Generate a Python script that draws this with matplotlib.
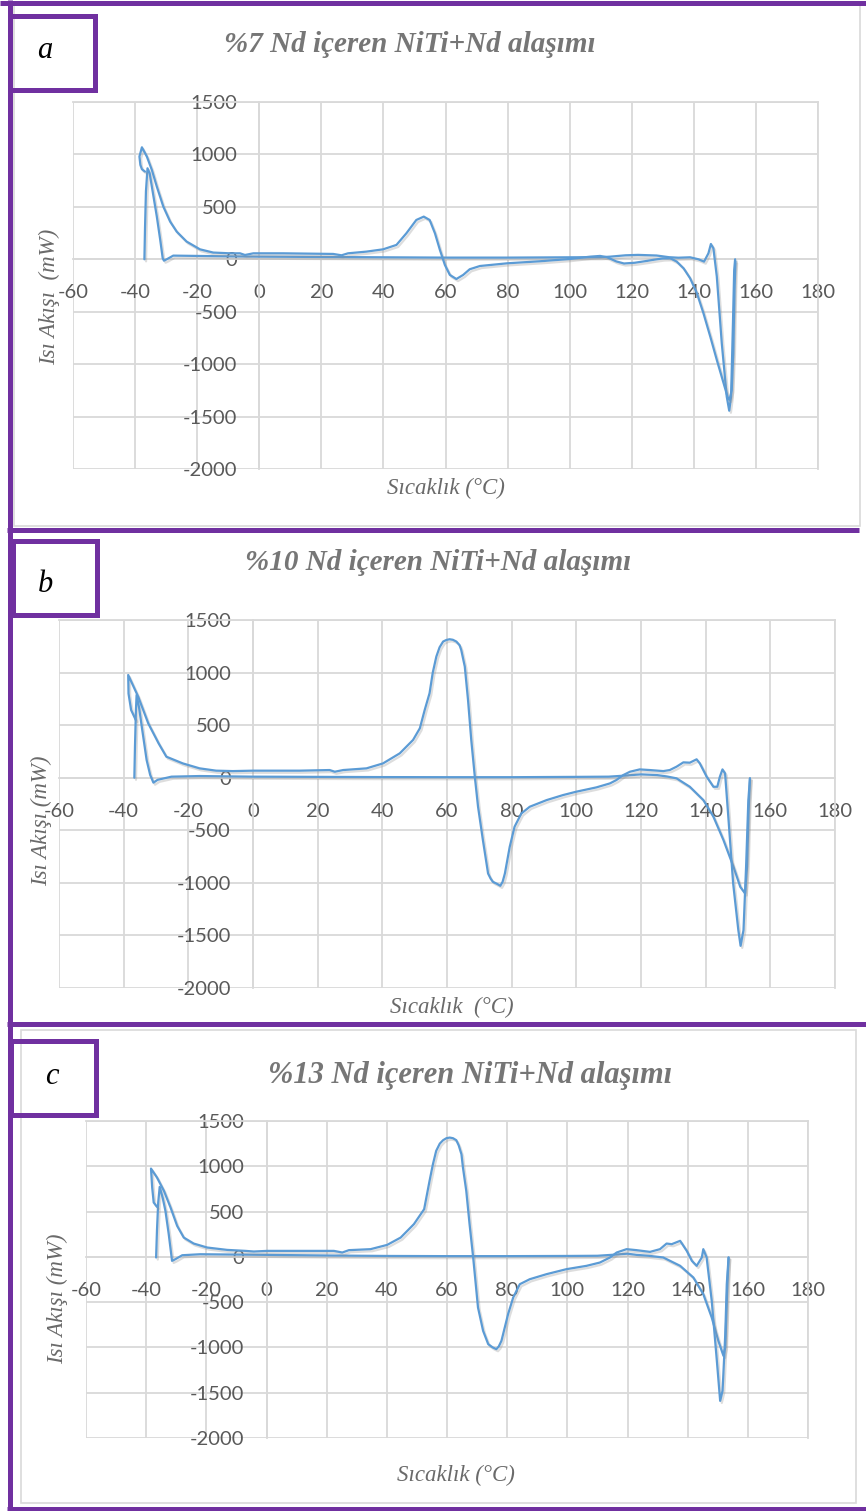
import matplotlib
matplotlib.use('Agg')
import matplotlib.pyplot as plt
from matplotlib.lines import Line2D
from matplotlib.patches import Rectangle
import matplotlib.patheffects as pe

# ---------------- data ----------------
x_ticks = list(range(-60, 181, 20))
y_ticks = list(range(-2000, 1501, 500))

titles = ["%7 Nd içeren NiTi+Nd alaşımı",
          "%10 Nd içeren NiTi+Nd alaşımı",
          "%13 Nd içeren NiTi+Nd alaşımı"]
panel_letters = ["a", "b", "c"]
x_labels = ["Sıcaklık (°C)", "Sıcaklık  (°C)", "Sıcaklık (°C)"]
y_labels = ["Isı Akışı  (mW)", "Isı Akışı (mW)", "Isı Akışı (mW)"]

# panel a
a1_T = [-37.0, -36.8, -36.5, -36.0, -35.3, -34.6, -33.0, -31.9, -31.1, -30.7, -29.8, -27.7,
        -20, -10, 0, 20, 40, 60, 80, 100, 110, 113, 118, 122, 128, 132, 135, 138.8,
        141.5, 143.3, 144.7, 145.5, 146.3, 147.4, 149.0, 150.6, 151.4, 152.0, 152.6, 153.0, 153.3]
a1_Q = [0, 300, 650, 868, 820, 693, 407, 184, 10, -13, 0, 35,
        32, 28, 25, 22, 19, 16, 16, 19, 20, 25, 38, 42, 36, 20, 15, 19,
        0, -22, 57, 146, 105, -165, -801, -1310, -1444, -1310, -610, -102, 0]
a2_T = [153.4, 153.1, 152.7, 152.2, 151.5, 151.0, 149.6, 147.4, 145.3, 143.1, 141.0, 138.8,
        136.7, 134.5, 132.4, 130.0, 127.0, 125.0, 121.0, 117.5, 115.0, 112.0, 109.8, 106.6,
        100.1, 90.4, 80.0, 71.1, 67.8, 65.7, 63.5, 61.4, 59.8, 58.2, 56.6, 54.9, 53.0, 50.6,
        47.4, 44.2, 39.9, 34.5, 28.6, 26.5, 23.8, 7.7, -1.9, -4.6, -6.2, -9.4, -14.8, -19.1,
        -23.4, -26.6, -28.7, -30.9, -33.0, -34.6, -36.2, -37.8, -38.6, -38.3, -37.8, -36.8]
a2_Q = [-20, -300, -900, -1250, -1340, -1326, -1183, -960, -738, -515, -324, -181,
        -86, -22, 10, 8, -5, -15, -33, -40, -20, 20, 32, 25,
        3, -19, -38, -64, -95, -149, -188, -149, -54, 89, 248, 375, 407, 375,
        248, 137, 95, 73, 57, 38, 51, 57, 57, 41, 57, 57, 64, 95,
        169, 264, 359, 502, 693, 852, 979, 1068, 980, 900, 859, 836]

# panel b
b1_T = [-36.7, -36.5, -36.2, -36.0, -35.2, -34.4, -32.9, -31.8, -30.8, -29.5, -25.2, -16.5,
        0, 20, 40, 60, 80, 100, 110, 115, 120, 125, 128, 131, 135.1, 139.3, 142.4, 145.5,
        148.6, 150.7, 152.2, 152.8, 153.3, 153.7]
b1_Q = [0, 300, 650, 787, 660, 485, 168, 26, -47, -20, 10, 16,
        10, 8, 6, 5, 5, 8, 10, 20, 32, 25, 12, -6, -86, -213, -371, -593,
        -847, -1038, -1101, -847, -300, -6]
b2_T = [153.7, 153.2, 152.5, 151.7, 150.8, 150.1, 148.5, 147.0, 146.0, 145.2, 144.4, 143.6,
        142.4, 140.3, 138.2, 137.2, 135.1, 133.1, 131.0, 128.9, 126.9, 122.7, 119.6, 116.6,
        114.5, 112.4, 110.4, 106.2, 100.0, 95.9, 90.8, 85.6, 83.0, 80.9, 79.4, 77.9, 77.2, 76.5,
        75.5, 74.2, 73.5, 72.7, 71.1, 69.6, 68.6, 67.5, 66.5, 65.5, 64.4, 63.9, 62.9, 61.8,
        60.8, 59.8, 58.8, 57.7, 56.7, 55.6, 54.6,
        53.1, 51.6, 49.5, 45.4, 40.2, 35.1, 27.9, 25.3, 23.7, 14.4, 0.0, -6.2, -11.4, -16.5,
        -21.7, -26.8, -29.2, -32.4, -35.5, -38.6, -38.5, -37.7, -36.5, -36.3]
b2_Q = [-6, -213, -847, -1450, -1599, -1450, -1006, -371, 41, 79, 10, -86,
        -86, 10, 136, 175, 143, 146, 105, 73, 63, 73, 79, 57,
        25, -22, -54, -92, -133, -165, -213, -276, -340, -466, -657, -911, -990, -1028,
        -1010, -990, -960, -911, -593, -276, 10, 359, 739, 1057, 1215, 1260, 1295, 1312,
        1317, 1310, 1295, 1240, 1152, 1000, 803,
        644, 470, 359, 232, 136, 89, 73, 57, 73, 67, 67, 63, 67, 89,
        136, 200, 327, 517, 770, 977, 800, 644, 565, 550]

# panel c
c1_T = [-36.7, -36.4, -36.0, -35.5, -34.5, -33.6, -32.5, -31.4, -30.3, -28.0, -22.0,
        0, 20, 40, 60, 80, 100, 110, 116, 120, 123, 127, 131.9, 137.5, 141.9, 145.2,
        148.0, 150.2, 151.9, 152.5, 153.1, 153.6]
c1_Q = [-7, 300, 600, 773, 650, 508, 250, -44, -26, 18, 29,
        22, 15, 10, 8, 8, 10, 12, 25, 35, 22, 12, -7, -99, -228, -412,
        -670, -927, -1093, -1000, -400, -7]
c2_T = [153.6, 153.0, 152.5, 151.6, 150.8, 149.7, 148.0, 146.3, 145.2, 144.7, 143.0, 141.4,
        139.7, 137.5, 134.7, 133.0, 130.8, 127.5, 123.0, 119.7, 116.4, 114.2, 110.8, 106.4,
        99.7, 93.1, 87.5, 84.2, 82.0, 80.3, 78.1, 77.2, 76.4, 75.2, 73.7, 72.0, 70.3, 68.7,
        67.5, 66.4, 65.3, 64.8, 63.9, 63.1, 62.0, 60.9, 59.8, 58.7, 57.6, 56.4, 55.3, 54.2,
        52.4, 49.0, 44.6, 40.1, 34.6, 27.4, 25.2,
        22.4, 0.2, -4.2, -7.0, -13.1, -19.7, -24.2, -27.5, -29.7, -31.9, -34.1, -36.4, -38.4,
        -38.0, -37.5, -36.4]
c2_Q = [-7, -302, -854, -1479, -1590, -1148, -486, -7, 85, -7, -99, -44,
        66, 177, 140, 147, 85, 55, 74, 85, 48, -7, -63, -99,
        -136, -191, -247, -302, -449, -633, -927, -990, -1019, -1000, -964, -817, -559, -7,
        361, 729, 986, 1133, 1230, 1288, 1310, 1317, 1310, 1288, 1250, 1170, 1020, 839,
        526, 361, 213, 132, 85, 74, 48,
        66, 66, 59, 66, 77, 103, 147, 213, 342, 545, 729, 876, 975,
        765, 600, 552]

series = [[(a1_T, a1_Q), (a2_T, a2_Q)],
          [(b1_T, b1_Q), (b2_T, b2_Q)],
          [(c1_T, c1_Q), (c2_T, c2_Q)]]

# ---------------- layout / style ----------------
W, H = 866, 1511
plt.rcParams['font.family'] = ['Lato', 'DejaVu Sans']
plt.rcParams['axes.unicode_minus'] = False
fig = plt.figure(figsize=(W / 100, H / 100), dpi=100)
fig.patch.set_facecolor('white')

PURPLE = '#7030A0'
BLUE = '#5B9BD5'
GRID = '#D9D9D9'
TICKC = '#595959'
TITLEC = '#767676'
LABELC = '#6A6A6A'
SERIF = ['Liberation Serif', 'DejaVu Serif']


def fx(x):
    return x / W


def fy(y):
    return 1 - y / H


# plot areas in pixels: left, right, top, bottom
areas = [(73, 818, 102, 469), (59, 835, 620, 988), (86, 808, 1121, 1438)]
title_pos = [(410, 45, 21), (438, 563, 21), (470, 1075, 22)]
letter_pos = [(45, 50), (45, 585), (52, 1077)]
xlab_pos = [(446, 488), (452, 1007), (456, 1475)]
ylab_pos = [(50, 297), (42, 821), (57, 1299)]

# chart-area light borders
fig.add_artist(Rectangle((fx(14), fy(526)), fx(860) - fx(14), fy(4) - fy(526),
                         transform=fig.transFigure, fill=False, edgecolor=GRID, lw=1.2, zorder=0))
fig.add_artist(Rectangle((fx(21), fy(1503)), fx(856) - fx(21), fy(1030) - fy(1503),
                         transform=fig.transFigure, fill=False, edgecolor=GRID, lw=1.2, zorder=0))

for i, (l, r, t, b) in enumerate(areas):
    ax = fig.add_axes([fx(l), fy(b), fx(r) - fx(l), fy(t) - fy(b)])
    ax.set_facecolor('none')
    ax.set_xlim(-60, 180)
    ax.set_ylim(-2000, 1500)
    ax.set_xticks(x_ticks)
    ax.set_yticks(y_ticks)
    ax.set_axisbelow(True)
    ax.grid(True, color=GRID, lw=1.3)
    for gl in ax.xaxis.get_gridlines() + ax.yaxis.get_gridlines():
        gl.set_clip_on(False)
    ax.spines['left'].set_position(('data', 0))
    ax.spines['bottom'].set_position(('data', 0))
    for s in ax.spines.values():
        s.set_color(GRID)
        s.set_linewidth(1.3)
    ax.tick_params(axis='both', length=0, labelsize=14.5, labelcolor=TICKC)
    ax.tick_params(axis='y', pad=16)
    ax.tick_params(axis='x', pad=18)
    for T, Q in series[i]:
        ax.plot(T, Q, color=BLUE, lw=1.6, solid_joinstyle='round', solid_capstyle='round',
                path_effects=[pe.SimpleLineShadow(offset=(1.2, -1.5), shadow_color='#909090', alpha=0.3),
                              pe.Normal()], zorder=3)

    tx, ty, ts = title_pos[i]
    fig.text(fx(tx), fy(ty), titles[i], ha='center', va='center', family=SERIF,
             style='italic', weight='bold', size=ts, color=TITLEC)
    lx, ly = letter_pos[i]
    fig.text(fx(lx), fy(ly), panel_letters[i], ha='center', va='center', family=SERIF,
             style='italic', size=22, color='black')
    xx, xy = xlab_pos[i]
    fig.text(fx(xx), fy(xy), x_labels[i], ha='center', va='center', family=SERIF,
             style='italic', size=16.5, color=LABELC)
    yx, yy = ylab_pos[i]
    fig.text(fx(yx), fy(yy), y_labels[i], ha='center', va='center', family=SERIF,
             style='italic', size=16.5, color=LABELC, rotation=90)

# purple frame lines
LW = 5 * 0.72


def pline(x0, y0, x1, y1):
    fig.add_artist(Line2D([fx(x0), fx(x1)], [fy(y0), fy(y1)], transform=fig.transFigure,
                          color=PURPLE, lw=LW, solid_capstyle='butt', zorder=5))


pline(0, 2.5, W, 2.5)
pline(9.5, 0, 9.5, H)
pline(7, 529.5, 859, 529.5)
pline(7, 1024, W, 1024)
pline(7, 1508.5, W, 1508.5)

# letter boxes
for (x0, y0, x1, y1) in [(9.5, 15.5, 94.5, 89.5), (12.5, 540.5, 96.5, 614.5), (10.5, 1040.5, 95.5, 1114.5)]:
    fig.add_artist(Rectangle((fx(x0), fy(y1)), fx(x1) - fx(x0), fy(y0) - fy(y1),
                             transform=fig.transFigure, fill=False, edgecolor=PURPLE, lw=LW, zorder=6))

fig.savefig('out.png', dpi=100, facecolor='white')
